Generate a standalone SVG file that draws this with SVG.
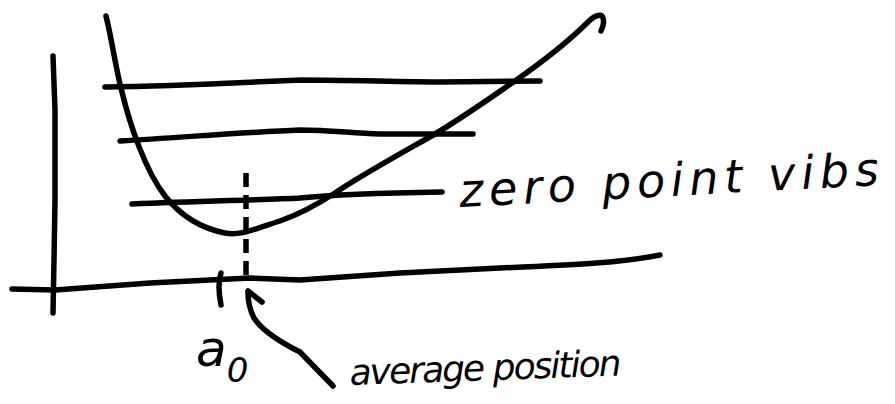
<svg xmlns="http://www.w3.org/2000/svg" width="895" height="404" viewBox="0 0 895 404">
<style>
.ink{fill:none;stroke:#000;stroke-width:5.5;stroke-linecap:round;stroke-linejoin:round}
.dash{fill:none;stroke:#000;stroke-width:5.5;stroke-dasharray:14 8}
.hand{font-family:"DejaVu Sans","Liberation Sans",sans-serif;font-style:italic;fill:#000}
</style>
<rect width="895" height="404" fill="#fff"/>
<g id="axes">
<path class="ink" d="M53 56 L55 110 L55 200 L54 260 L53 313"/>
<path class="ink" d="M12 289 L55 290 L150 283 L250 278 L300 280 L400 273 L500 268 C570 265 620 263 660 255"/>
</g>
<g id="potential-curve">
<path class="ink" d="M106 16 C112 40 116 70 122 92 C130 125 145 170 165 196 C180 215 200 228 225 233 C240 236 255 229 280 221 C300 214 318 204 335 193 C360 176 400 154 435 134 C465 116 490 98 515 81 C545 60 570 40 588 22 C596 14 602 14 603 18 C605 24 602 28 601 31"/>
</g>
<g id="energy-levels">
<path class="ink" d="M105 87 C180 86 250 82 300 80 C350 80 400 82 440 82 L540 81"/>
<path class="ink" d="M120 141 C200 136 250 132 300 130 C330 130 350 133 380 134 L473 134"/>
<path class="ink" d="M132 204 C200 201 260 200 300 198 C340 194 380 193 442 192"/>
</g>
<g id="average-marker">
<path class="dash" d="M246 173 L246 281"/>
<path class="ink" d="M221 273 C218 282 219 295 221 305"/>
</g>
<g id="connectors">
<path class="ink" d="M333 386 L300 352 C280 342 262 330 254 318 C249 308 248 300 248 293"/>
<path class="ink" d="M248 291 L262 302"/>
</g>
<g id="label-zero-point">
<text class="hand" x="460" y="207" font-size="46" textLength="420" lengthAdjust="spacing" transform="rotate(-3 460 207)">zero point vibs</text>
</g>
<g id="label-a0">
<text class="hand" x="196" y="366" font-size="50">a<tspan font-size="34" dy="16">0</tspan></text>
</g>
<g id="label-average">
<text class="hand" x="350" y="385" font-size="36" textLength="272" lengthAdjust="spacing" transform="rotate(-2 350 385)">average position</text>
</g>
</svg>
